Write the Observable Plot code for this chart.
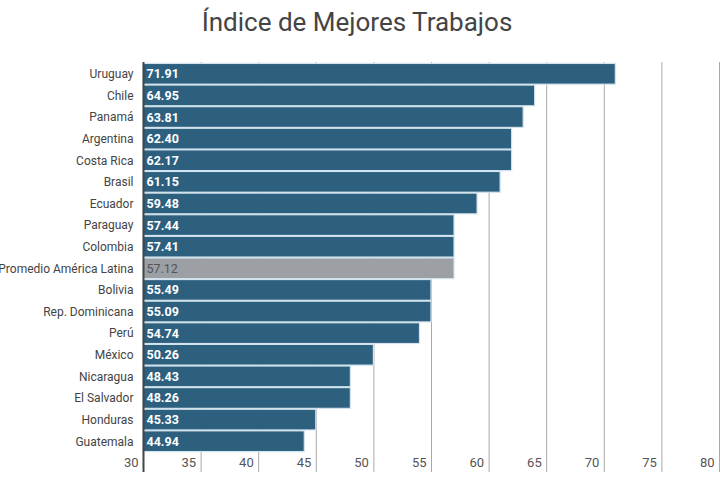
<!DOCTYPE html>
<html>
<head>
<meta charset="utf-8">
<script src="https://cdn.jsdelivr.net/npm/d3@7"></script>
<script src="https://cdn.jsdelivr.net/npm/@observablehq/plot@0.6"></script>
<style>
  html, body { margin: 0; padding: 0; background: #fff; }
  #title { font-family: Roboto, sans-serif; font-size: 26px; line-height: 30px; color: #444;
           text-align: center; margin: 7px 6px 0 0; height: 43px; }
  #chart svg { display: block; overflow: visible; }
</style>
</head>
<body>
<div id="title">Índice de Mejores Trabajos</div>
<div id="chart"></div>
<script>
const countries = ["Uruguay","Chile","Panamá","Argentina","Costa Rica","Brasil","Ecuador","Paraguay","Colombia","Promedio América Latina","Bolivia","Rep. Dominicana","Perú","México","Nicaragua","El Salvador","Honduras","Guatemala"];
const values = [71.91,64.95,63.81,62.40,62.17,61.15,59.48,57.44,57.41,57.12,55.49,55.09,54.74,50.26,48.43,48.26,45.33,44.94];
// bar lengths as drawn in the picture
const barLengths = [71,64,63,62,62,61,59,57,57,57,55,55,54,50,48,48,45,44];
const xTicks = [30,35,40,45,50,55,60,65,70,75,80];
const averageName = "Promedio América Latina";

const data = countries.map((c, i) => ({country: c, value: values[i], bar: barLengths[i]}));
const isAvg = d => d.country === averageName;

const chart = Plot.plot({
  width: 720,
  height: 450,
  marginTop: 13,
  marginBottom: 48,
  marginLeft: 143,
  marginRight: 1,
  style: {fontFamily: "Roboto, sans-serif", fontSize: "12px", color: "#444", background: "#fff"},
  x: {domain: [30, 80], axis: null},
  y: {domain: countries, paddingInner: 0.04, paddingOuter: 0.02, round: false, label: null},
  marks: [
    Plot.ruleX(xTicks.slice(1), {stroke: "#aaa", strokeWidth: 1, insetTop: -1, insetBottom: -20}),
    Plot.barX(data, {
      y: "country", x1: 30, x2: "bar",
      fill: d => isAvg(d) ? "#9c9fa3" : "#2d5f7f",
      stroke: "#d3e4ee", strokeWidth: 1.2
    }),
    Plot.ruleX([30], {stroke: "#444", strokeWidth: 2, insetTop: -1, insetBottom: -20}),
    Plot.text(data.filter(d => !isAvg(d)), {
      y: "country", x: 30, text: d => d.value.toFixed(2), textAnchor: "start", dx: 3,
      fill: "#fff", fontWeight: "bold", fontSize: 12.5
    }),
    Plot.text(data.filter(isAvg), {
      y: "country", x: 30, text: d => d.value.toFixed(2), textAnchor: "start", dx: 3,
      fill: "#555", fontSize: 12.5
    }),
    Plot.text(xTicks, {x: d => d, text: d => String(d), frameAnchor: "bottom", dy: 14,
      textAnchor: "end", dx: -5, fill: "#555", fontSize: 13}),
    Plot.axisY({tickSize: 0, tickPadding: 10, fontSize: 12, label: null})
  ]
});
document.getElementById("chart").appendChild(chart);
</script>
</body>
</html>
